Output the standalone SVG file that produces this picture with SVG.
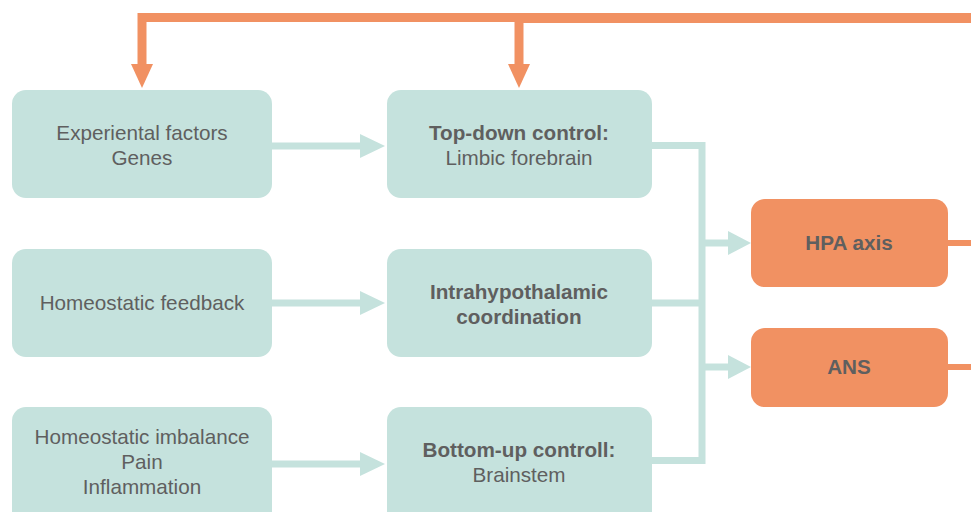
<svg xmlns="http://www.w3.org/2000/svg" width="971" height="512" viewBox="0 0 971 512">
<defs>
<style>
.box{fill:#c5e2dd}
.obox{fill:#f19162}
.t{font-family:"Liberation Sans",Arial,sans-serif;font-size:20.7px;fill:#5f5f5f;text-anchor:middle}
.b{font-weight:bold}
.tc{fill:none;stroke:#c5e2dd;stroke-width:7}
.oc{fill:none;stroke:#f19162}
.th{fill:#c5e2dd}
.oh{fill:#f19162}
</style>
</defs>
<rect width="971" height="512" fill="#ffffff"/>
<g id="connectors">
<path class="oc" d="M142 17.5 H519" stroke-width="9"/>
<path class="oc" d="M519 18 H971" stroke-width="10"/>
<path class="oc" d="M142 13 V66" stroke-width="9"/>
<polygon class="oh" points="131,64 153,64 142,88"/>
<path class="oc" d="M519 13 V66" stroke-width="9"/>
<polygon class="oh" points="508,64 530,64 519,88"/>
<path class="tc" d="M272 146 H362"/>
<polygon class="th" points="360,134 385,146 360,158"/>
<path class="tc" d="M272 303 H362"/>
<polygon class="th" points="360,291 385,303 360,315"/>
<path class="tc" d="M272 464 H362"/>
<polygon class="th" points="360,452 385,464 360,476"/>
<path class="tc" d="M652 145.5 H702 V460.5 H652"/>
<path class="tc" d="M652 303 H702"/>
<path class="tc" d="M702 243 H730"/>
<polygon class="th" points="728,231 751,243 728,255"/>
<path class="tc" d="M702 367 H730"/>
<polygon class="th" points="728,355 751,367 728,379"/>
<path class="oc" d="M946 243 H971" stroke-width="6"/>
<path class="oc" d="M946 367 H971" stroke-width="6"/>
</g>
<g id="n1"><rect class="box" x="12" y="90" width="260" height="108" rx="14"/>
<text class="t" x="142" y="140">Experiental factors</text><text class="t" x="142" y="165">Genes</text></g>
<g id="n2"><rect class="box" x="387" y="90" width="265" height="108" rx="14"/>
<text class="t b" x="519" y="140">Top-down control:</text><text class="t" x="519" y="165">Limbic forebrain</text></g>
<g id="n3"><rect class="box" x="12" y="249" width="260" height="108" rx="14"/>
<text class="t" x="142" y="310">Homeostatic feedback</text></g>
<g id="n4"><rect class="box" x="387" y="249" width="265" height="108" rx="14"/>
<text class="t b" x="519" y="299">Intrahypothalamic</text><text class="t b" x="519" y="324">coordination</text></g>
<g id="n5"><rect class="box" x="12" y="407" width="260" height="120" rx="14"/>
<text class="t" x="142" y="444">Homeostatic imbalance</text><text class="t" x="142" y="469">Pain</text><text class="t" x="142" y="494">Inflammation</text></g>
<g id="n6"><rect class="box" x="387" y="407" width="265" height="120" rx="14"/>
<text class="t b" x="519" y="457">Bottom-up controll:</text><text class="t" x="519" y="482">Brainstem</text></g>
<g id="n7"><rect class="obox" x="751" y="199" width="197" height="88" rx="14"/>
<text class="t b" x="849" y="250">HPA axis</text></g>
<g id="n8"><rect class="obox" x="751" y="328" width="197" height="79" rx="14"/>
<text class="t b" x="849" y="374">ANS</text></g>
</svg>
